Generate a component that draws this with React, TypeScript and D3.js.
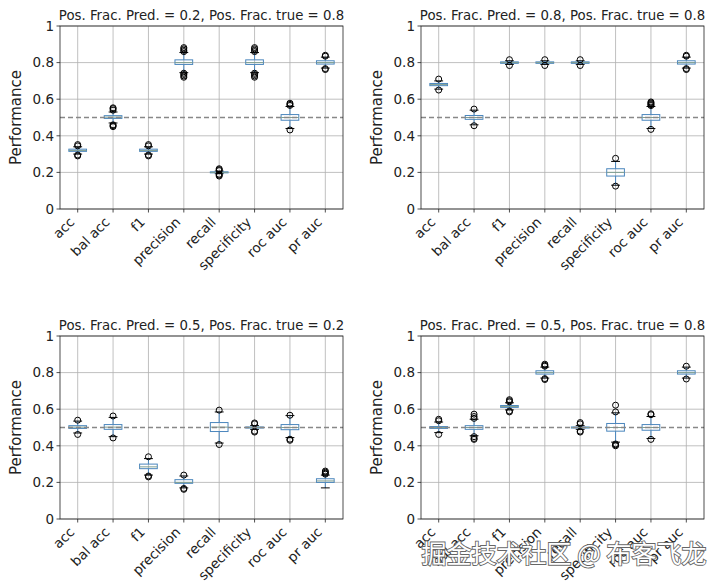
import * as d3 from 'd3';

const METRICS = ['acc', 'bal acc', 'f1', 'precision', 'recall', 'specificity', 'roc auc', 'pr auc'];
const TITLES = [
  'Pos. Frac. Pred. = 0.2, Pos. Frac. true = 0.8',
  'Pos. Frac. Pred. = 0.8, Pos. Frac. true = 0.8',
  'Pos. Frac. Pred. = 0.5, Pos. Frac. true = 0.2',
  'Pos. Frac. Pred. = 0.5, Pos. Frac. true = 0.8',
];
const Y_TICKS = [0, 0.2, 0.4, 0.6, 0.8, 1];
const CHANCE = 0.5;

// [whisker low, q1, median, q3, whisker high]
type Box = [number, number, number, number, number];

const boxesA: Box[] = [
  [0.3, 0.315, 0.32, 0.327, 0.34],
  [0.47, 0.495, 0.502, 0.51, 0.53],
  [0.3, 0.315, 0.32, 0.327, 0.34],
  [0.745, 0.79, 0.8, 0.815, 0.855],
  [0.193, 0.198, 0.2, 0.203, 0.207],
  [0.745, 0.79, 0.8, 0.815, 0.855],
  [0.44, 0.485, 0.5, 0.516, 0.56],
  [0.77, 0.792, 0.8, 0.81, 0.83],
];
const fliersA: number[][] = [
  [0.29, 0.295, 0.345, 0.352],
  [0.45, 0.455, 0.46, 0.54, 0.548, 0.553],
  [0.29, 0.295, 0.345, 0.352],
  [0.72, 0.727, 0.735, 0.742, 0.86, 0.867, 0.875, 0.882],
  [0.18, 0.185, 0.19, 0.21, 0.215, 0.22],
  [0.72, 0.727, 0.735, 0.742, 0.86, 0.867, 0.875, 0.882],
  [0.432, 0.566, 0.572, 0.578],
  [0.762, 0.767, 0.835, 0.84],
];

const boxesB: Box[] = [
  [0.655, 0.674, 0.68, 0.686, 0.7],
  [0.46, 0.49, 0.5, 0.511, 0.54],
  [0.79, 0.796, 0.8, 0.804, 0.81],
  [0.79, 0.796, 0.8, 0.804, 0.81],
  [0.79, 0.796, 0.8, 0.804, 0.81],
  [0.13, 0.18, 0.2, 0.22, 0.26],
  [0.44, 0.485, 0.5, 0.516, 0.56],
  [0.77, 0.792, 0.8, 0.81, 0.83],
];
const fliersB: number[][] = [
  [0.65, 0.71],
  [0.455, 0.546],
  [0.784, 0.816],
  [0.784, 0.816],
  [0.784, 0.816],
  [0.125, 0.277],
  [0.435, 0.565, 0.57, 0.575, 0.58, 0.585],
  [0.762, 0.767, 0.835, 0.84],
];

const boxesC: Box[] = [
  [0.47, 0.495, 0.502, 0.51, 0.535],
  [0.45, 0.49, 0.502, 0.516, 0.555],
  [0.24, 0.275, 0.285, 0.3, 0.33],
  [0.17, 0.195, 0.2, 0.215, 0.235],
  [0.415, 0.478, 0.502, 0.527, 0.585],
  [0.49, 0.497, 0.5, 0.503, 0.51],
  [0.445, 0.488, 0.5, 0.516, 0.565],
  [0.17, 0.2, 0.208, 0.22, 0.24],
];
const fliersC: number[][] = [
  [0.462, 0.54],
  [0.443, 0.563],
  [0.23, 0.235, 0.34],
  [0.162, 0.167, 0.24],
  [0.407, 0.595],
  [0.475, 0.48, 0.52, 0.525],
  [0.43, 0.436, 0.567],
  [0.245, 0.25, 0.256, 0.262],
];

const boxesD: Box[] = [
  [0.472, 0.495, 0.5, 0.505, 0.53],
  [0.455, 0.49, 0.5, 0.51, 0.545],
  [0.596, 0.61, 0.615, 0.62, 0.635],
  [0.77, 0.792, 0.8, 0.81, 0.83],
  [0.49, 0.497, 0.5, 0.503, 0.51],
  [0.42, 0.48, 0.5, 0.522, 0.58],
  [0.44, 0.485, 0.5, 0.516, 0.56],
  [0.77, 0.792, 0.8, 0.81, 0.83],
];
const fliersD: number[][] = [
  [0.462, 0.537, 0.545],
  [0.435, 0.44, 0.45, 0.55, 0.56, 0.573],
  [0.585, 0.59, 0.64, 0.646, 0.652],
  [0.762, 0.767, 0.835, 0.84, 0.846],
  [0.475, 0.48, 0.52, 0.527],
  [0.4, 0.405, 0.41, 0.585, 0.622],
  [0.435, 0.57, 0.575],
  [0.765, 0.835],
];

const PANELS = [
  { title: TITLES[0], boxes: boxesA, fliers: fliersA },
  { title: TITLES[1], boxes: boxesB, fliers: fliersB },
  { title: TITLES[2], boxes: boxesC, fliers: fliersC },
  { title: TITLES[3], boxes: boxesD, fliers: fliersD },
];

const WIDTH = 720;
const HEIGHT = 588;
const PLOT_W = 283;
const PLOT_H = 183;
const LEFTS = [60, 421];
const TOPS = [26, 336];
const FONT = "'DejaVu Sans', sans-serif";
const BLUE = '#4a86bd';
const GRID = '#b0b0b0';
const INK = '#222';

function Panel({ title, boxes, fliers, left, top }: {
  title: string;
  boxes: Box[];
  fliers: number[][];
  left: number;
  top: number;
}) {
  const x = d3.scaleLinear().domain([0.5, METRICS.length + 0.5]).range([0, PLOT_W]);
  const y = d3.scaleLinear().domain([0, 1]).range([PLOT_H, 0]);
  const halfBox = x(1.25) - x(1);
  const halfCap = halfBox / 2;

  return (
    <g transform={`translate(${left},${top})`}>
      {/* grid */}
      {Y_TICKS.map(t => (
        <line key={'h' + t} x1={0} x2={PLOT_W} y1={y(t)} y2={y(t)} stroke={GRID} strokeWidth={0.8} />
      ))}
      {METRICS.map((m, i) => (
        <line key={'v' + m} x1={x(i + 1)} x2={x(i + 1)} y1={0} y2={PLOT_H} stroke={GRID} strokeWidth={0.8} />
      ))}

      {/* boxes */}
      {boxes.map(([lo, q1, med, q3, hi], i) => {
        const cx = x(i + 1);
        return (
          <g key={'b' + i}>
            <line x1={cx} x2={cx} y1={y(lo)} y2={y(q1)} stroke={BLUE} strokeWidth={1} />
            <line x1={cx} x2={cx} y1={y(q3)} y2={y(hi)} stroke={BLUE} strokeWidth={1} />
            <line x1={cx - halfCap} x2={cx + halfCap} y1={y(lo)} y2={y(lo)} stroke="#000" strokeWidth={1} />
            <line x1={cx - halfCap} x2={cx + halfCap} y1={y(hi)} y2={y(hi)} stroke="#000" strokeWidth={1} />
            <rect
              x={cx - halfBox}
              width={halfBox * 2}
              y={y(q3)}
              height={Math.max(y(q1) - y(q3), 1)}
              fill="none"
              stroke={BLUE}
              strokeWidth={1}
            />
            <line x1={cx - halfBox} x2={cx + halfBox} y1={y(med)} y2={y(med)} stroke="#7f9f92" strokeWidth={1} />
            {fliers[i].map((f, j) => (
              <circle key={j} cx={cx} cy={y(f)} r={3} fill="none" stroke="#000" strokeWidth={1} />
            ))}
          </g>
        );
      })}

      {/* chance line */}
      <line
        x1={0}
        x2={PLOT_W}
        y1={y(CHANCE)}
        y2={y(CHANCE)}
        stroke="#888"
        strokeWidth={1.3}
        strokeDasharray="5,3"
      />

      {/* frame */}
      <rect x={0} y={0} width={PLOT_W} height={PLOT_H} fill="none" stroke={INK} strokeWidth={0.8} />

      {/* y axis */}
      {Y_TICKS.map(t => (
        <g key={'yt' + t} transform={`translate(0,${y(t)})`}>
          <line x1={-3.5} x2={0} stroke={INK} strokeWidth={0.8} />
          <text x={-6} dy="0.36em" textAnchor="end" fontSize={13.5} fontFamily={FONT} fill={INK}>
            {String(t)}
          </text>
        </g>
      ))}
      <text
        transform={`translate(${-39},${PLOT_H / 2}) rotate(-90)`}
        textAnchor="middle"
        fontSize={15}
        fontFamily={FONT}
        fill={INK}
      >
        Performance
      </text>

      {/* x axis */}
      {METRICS.map((m, i) => (
        <g key={'xt' + m} transform={`translate(${x(i + 1)},${PLOT_H})`}>
          <line y1={0} y2={3.5} stroke={INK} strokeWidth={0.8} />
          <text
            transform="translate(-2.5,14) rotate(-45)"
            textAnchor="end"
            fontSize={13.5}
            fontFamily={FONT}
            fill={INK}
          >
            {m}
          </text>
        </g>
      ))}

      <text
        x={PLOT_W / 2}
        y={-6}
        textAnchor="middle"
        fontSize={13.3}
        fontFamily={FONT}
        fill={INK}
      >
        {title}
      </text>
    </g>
  );
}

export default function App() {
  return (
    <svg
      width={WIDTH}
      height={HEIGHT}
      viewBox={`0 0 ${WIDTH} ${HEIGHT}`}
      style={{ position: 'absolute', left: 0, top: 0, background: '#fff' }}
    >
      <rect width={WIDTH} height={HEIGHT} fill="#fff" />
      {PANELS.map((p, i) => (
        <Panel
          key={i}
          title={p.title}
          boxes={p.boxes}
          fliers={p.fliers}
          left={LEFTS[i % 2]}
          top={TOPS[Math.floor(i / 2)]}
        />
      ))}
      <text
        x={564}
        y={563}
        textAnchor="middle"
        fontSize={25}
        fontFamily="'Noto Sans CJK SC', sans-serif"
        fill="#fff"
        stroke="#666"
        strokeWidth={1.8}
        paintOrder="stroke"
      >
        掘金技术社区 @ 布客飞龙
      </text>
    </svg>
  );
}
